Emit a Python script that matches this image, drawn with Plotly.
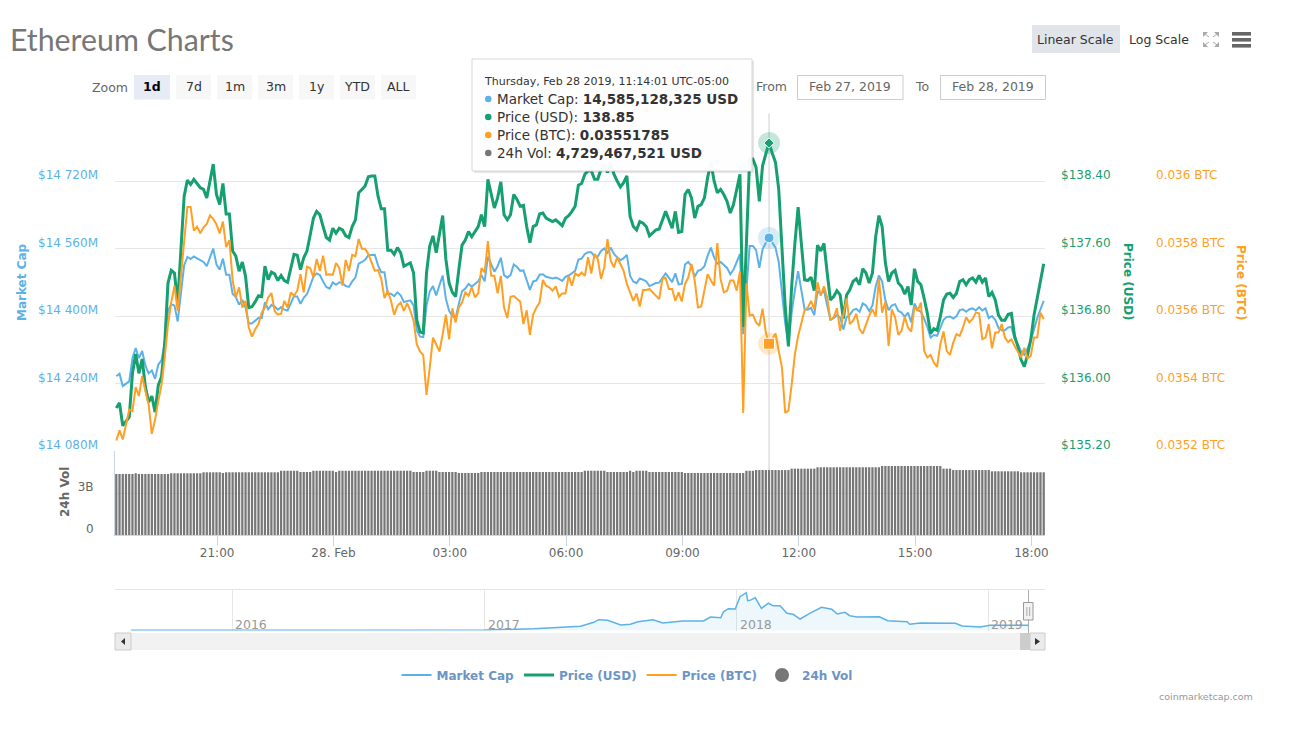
import pandas as pd
import plotly.graph_objects as go

W, H = 1296, 730
FONT = "DejaVu Sans"

# ---------- data ----------
start_time = "2019-02-27 18:24"
usd_price = [
135.71,135.77,135.50,135.55,135.60,136.12,136.35,136.12,136.29,135.96,135.78,135.85,135.66,135.98,136.08,136.48,
137.19,137.34,137.31,136.95,137.66,138.22,138.41,138.36,138.42,138.37,138.32,138.30,138.20,138.40,138.60,138.24,
138.12,138.37,138.01,138.01,137.57,137.51,137.33,137.44,137.27,136.90,136.91,136.97,137.04,137.03,137.39,137.23,
137.32,137.30,137.22,137.28,137.22,137.20,137.37,137.53,137.52,137.35,137.49,137.57,137.76,137.96,138.04,138.00,
137.86,137.73,137.70,137.84,137.78,137.84,137.82,137.75,137.73,137.86,137.94,138.26,138.30,138.34,138.45,138.46,
138.46,138.22,138.07,138.07,137.58,137.58,137.53,137.61,137.55,137.39,137.41,137.43,137.31,136.75,136.61,136.60,
137.31,137.63,137.75,137.55,137.77,137.99,137.47,137.19,137.08,137.03,137.35,137.64,137.70,137.80,137.74,137.80,
137.86,138.00,137.86,138.42,138.26,138.08,138.20,138.39,138.00,137.94,138.00,138.24,138.18,138.10,138.11,137.86,
137.67,137.86,137.88,138.01,138.02,137.96,137.94,137.92,137.94,137.91,137.87,137.96,137.99,138.04,138.10,138.35,
138.37,138.48,138.52,138.52,138.42,138.42,138.54,138.60,138.50,138.62,138.48,138.40,138.33,138.38,138.46,137.98,
137.86,137.82,137.92,137.90,137.86,137.75,137.78,137.82,137.83,137.94,138.04,137.94,137.84,138.04,137.79,137.80,
138.24,138.30,138.20,137.96,138.10,138.12,138.20,138.44,138.62,138.40,138.26,138.30,138.24,138.16,138.02,138.12,
138.30,138.48,136.67,137.66,138.66,138.66,138.56,138.16,138.58,138.72,138.85,138.73,138.62,138.30,137.66,136.91,
136.44,137.15,137.66,138.09,137.66,137.23,137.22,137.26,137.10,137.64,137.57,137.66,137.31,136.99,137.03,137.10,
137.05,136.77,137.05,137.11,137.21,137.24,137.17,137.36,137.31,137.19,137.31,137.74,137.99,137.86,137.43,137.21,
137.31,137.34,137.19,137.15,137.06,137.15,136.93,137.36,137.21,137.17,137.01,136.83,136.59,136.65,136.63,136.79,
136.99,137.06,137.07,137.02,137.07,137.21,137.23,137.17,137.23,137.25,137.20,137.28,137.20,137.25,137.03,137.08,
136.99,136.81,136.75,136.75,136.82,136.83,136.56,136.44,136.28,136.20,136.34,136.52,136.81,137.03,137.23,137.42,
]
market_cap_musd = [
14257,14263,14234,14240,14245,14300,14324,14300,14317,14283,14264,14271,14251,14285,14295,14337,
14412,14428,14425,14387,14461,14520,14540,14535,14541,14536,14531,14528,14518,14539,14560,14522,
14510,14536,14498,14498,14452,14445,14427,14438,14420,14382,14383,14389,14396,14395,14433,14416,
14426,14423,14415,14421,14415,14413,14431,14447,14446,14429,14443,14452,14472,14493,14501,14497,
14482,14469,14465,14480,14474,14480,14478,14471,14469,14482,14491,14524,14528,14533,14544,14545,
14545,14520,14504,14504,14453,14453,14447,14456,14449,14433,14435,14437,14425,14366,14351,14350,
14425,14458,14471,14449,14473,14496,14441,14412,14400,14395,14429,14459,14465,14476,14470,14476,
14482,14497,14482,14541,14524,14505,14518,14538,14497,14491,14497,14522,14516,14507,14508,14482,
14462,14482,14484,14498,14499,14493,14491,14489,14491,14488,14483,14493,14496,14501,14507,14534,
14536,14547,14551,14551,14541,14541,14554,14560,14550,14562,14547,14539,14532,14537,14545,14495,
14482,14478,14489,14486,14482,14471,14474,14478,14479,14491,14501,14491,14480,14501,14475,14476,
14522,14528,14518,14493,14507,14510,14518,14543,14562,14539,14524,14528,14522,14514,14499,14510,
14528,14547,14357,14461,14566,14566,14556,14514,14558,14573,14585,14574,14562,14528,14461,14383,
14333,14408,14461,14506,14461,14416,14415,14419,14402,14459,14452,14461,14425,14391,14395,14402,
14397,14368,14397,14403,14414,14417,14410,14430,14425,14412,14425,14470,14496,14482,14437,14414,
14425,14428,14412,14408,14398,14408,14385,14430,14414,14410,14393,14374,14349,14355,14353,14370,
14391,14398,14399,14394,14399,14414,14416,14410,14416,14418,14413,14421,14413,14418,14395,14400,
14391,14372,14366,14366,14373,14374,14346,14333,14316,14308,14323,14342,14372,14395,14416,14436,
]
btc_price = [
.035231,.035261,.035234,.035278,.035323,.035318,.035389,.035363,.035422,.035378,.035338,.035251,.035293,.035348,.035397,.035477,
.035576,.035640,.035690,.035615,.035724,.035814,.035923,.035923,.035853,.035865,.035845,.035863,.035873,.035898,.035888,.035871,
.035845,.035880,.035804,.035825,.035705,.035655,.035685,.035625,.035645,.035566,.035539,.035561,.035576,.035610,.035625,.035655,
.035668,.035615,.035604,.035607,.035645,.035625,.035670,.035660,.035675,.035724,.035670,.035746,.035742,.035714,.035769,.035734,
.035779,.035722,.035724,.035722,.035757,.035742,.035690,.035766,.035734,.035781,.035777,.035828,.035799,.035799,.035784,.035759,
.035734,.035736,.035710,.035653,.035675,.035645,.035604,.035630,.035640,.035615,.035638,.035615,.035586,.035516,.035495,.035484,
.035366,.035447,.035536,.035516,.035495,.035546,.035604,.035531,.035623,.035581,.035625,.035640,.035670,.035660,.035685,.035655,
.035667,.035742,.035729,.035822,.035719,.035719,.035667,.035719,.035625,.035594,.035657,.035659,.035650,.035643,.035576,.035617,
.035544,.035604,.035625,.035640,.035707,.035690,.035685,.035675,.035688,.035657,.035667,.035667,.035719,.035690,.035726,.035719,
.035729,.035719,.035774,.035726,.035784,.035769,.035710,.035744,.035828,.035764,.035744,.035774,.035754,.035734,.035695,.035670,
.035645,.035667,.035628,.035677,.035677,.035680,.035670,.035662,.035650,.035710,.035713,.035680,.035680,.035645,.035670,.035643,
.035695,.035714,.035754,.035705,.035625,.035628,.035675,.035724,.035705,.035690,.035816,.035710,.035670,.035675,.035705,.035705,
.035675,.035732,.035313,.035697,.035601,.035604,.035581,.035571,.035622,.035551,.035516,.035531,.035548,.035496,.035447,.035313,
.035320,.035397,.035487,.035541,.035576,.035617,.035625,.035645,.035620,.035700,.035660,.035688,.035655,.035588,.035596,.035623,
.035556,.035601,.035652,.035576,.035586,.035607,.035561,.035548,.035576,.035601,.035620,.035598,.035710,.035610,.035642,.035511,
.035620,.035596,.035544,.035556,.035598,.035566,.035554,.035627,.035615,.035640,.035496,.035477,.035485,.035462,.035449,.035516,
.035554,.035496,.035485,.035521,.035546,.035541,.035566,.035596,.035581,.035591,.035610,.035608,.035531,.035536,.035576,.035504,
.035551,.035551,.035576,.035536,.035523,.035531,.035511,.035492,.035477,.035506,.035474,.035482,.035536,.035536,.035610,.035591,
]
volume_b = [
4.36,4.36,4.36,4.36,4.36,4.36,4.41,4.36,4.36,4.36,4.36,4.36,4.36,4.36,4.36,4.36,4.36,4.41,4.41,4.41,4.41,4.41,4.41,4.41,4.41,4.41,4.41,
4.48,4.48,4.48,4.48,4.48,4.48,4.43,4.48,4.48,4.48,4.48,4.48,4.48,4.48,4.48,4.48,4.48,4.48,4.48,4.48,4.48,4.48,4.48,4.48,
4.59,4.59,4.59,4.59,4.59,4.59,4.50,4.50,4.50,4.50,4.59,4.59,4.59,4.59,4.59,4.59,4.59,4.50,
4.59,4.59,4.59,4.59,4.59,4.59,4.59,4.59,4.59,4.59,4.59,4.59,4.59,4.59,4.59,4.59,4.59,4.59,4.59,4.59,4.59,4.59,4.59,
4.50,4.50,4.50,4.50,4.59,4.59,4.59,4.59,4.50,4.50,4.50,4.50,4.50,4.50,4.43,4.43,4.43,4.43,4.43,4.43,4.43,
4.50,4.50,4.50,4.50,4.50,4.50,4.50,4.50,4.50,4.50,4.50,4.50,4.50,4.50,4.50,4.50,4.50,4.50,4.50,4.50,4.50,4.50,4.50,4.50,4.50,4.50,4.50,4.50,4.50,4.50,4.50,4.50,
4.59,4.59,4.59,4.59,4.59,4.59,4.59,4.50,4.50,4.50,4.50,4.50,4.50,4.50,4.59,4.50,4.59,4.59,4.59,4.59,
4.50,4.50,4.50,4.50,4.50,4.50,4.50,4.50,4.50,4.50,4.50,
4.43,4.43,4.43,4.43,4.43,4.43,4.43,4.43,4.43,4.43,4.43,4.43,4.43,4.43,4.43,4.43,4.43,4.43,4.43,
4.59,4.59,4.59,4.64,4.64,4.64,4.64,4.64,4.64,4.64,4.64,4.64,4.64,4.64,
4.74,4.74,4.74,4.74,4.74,4.74,4.74,4.74,
4.84,4.84,4.84,4.84,4.84,4.84,4.84,4.84,4.84,4.84,4.84,4.84,4.84,4.84,4.84,4.84,4.84,4.84,4.84,4.84,
4.93,4.93,4.93,4.93,4.93,4.93,4.93,4.93,4.93,4.93,4.93,4.93,4.93,4.93,4.93,4.93,4.93,4.93,4.93,
4.74,4.74,4.74,4.64,4.64,4.64,4.64,4.64,4.64,4.64,4.64,4.64,4.64,4.64,4.64,
4.55,4.55,4.55,4.55,4.55,4.55,4.55,4.55,4.55,4.48,4.48,4.48,4.48,4.48,4.48,4.48,4.48,
]
assert len(usd_price) == len(market_cap_musd) == len(btc_price) == len(volume_b) == 288

cap_ticks = [14080, 14240, 14400, 14560, 14720, 14880]
cap_labels = ["$14 080M", "$14 240M", "$14 400M", "$14 560M", "$14 720M", ""]
usd_ticks = [135.2, 136.0, 136.8, 137.6, 138.4]
usd_labels = ["$135.20", "$136.00", "$136.80", "$137.60", "$138.40"]
btc_ticks = [0.0352, 0.0354, 0.0356, 0.0358, 0.036]
btc_labels = ["0.0352 BTC", "0.0354 BTC", "0.0356 BTC", "0.0358 BTC", "0.036 BTC"]
vol_ticks = [0, 3, 6]
vol_labels = ["0", "3B", ""]
time_ticks = ["2019-02-27 21:00", "2019-02-28 00:00", "2019-02-28 03:00", "2019-02-28 06:00",
              "2019-02-28 09:00", "2019-02-28 12:00", "2019-02-28 15:00", "2019-02-28 18:00"]
time_labels = ["21:00", "28. Feb", "03:00", "06:00", "09:00", "12:00", "15:00", "18:00"]
x_range = ["2019-02-27 18:22", "2019-02-28 18:21"]

hover_time = "2019-02-28 11:14:01"
hover_cap, hover_usd, hover_btc = 14585.128325, 138.85, 0.03551785

nav_dates = ["2015-08-07","2016-01-01","2016-07-01","2017-01-01","2017-03-13","2017-05-01","2017-05-20","2017-06-08",
 "2017-06-15","2017-06-28","2017-07-17","2017-07-31","2017-08-11","2017-09-02","2017-09-16","2017-10-15","2017-11-14",
 "2017-11-24","2017-12-09","2017-12-13","2017-12-20","2017-12-30","2018-01-06","2018-01-15","2018-01-17","2018-01-21",
 "2018-01-28","2018-02-06","2018-02-16","2018-02-23","2018-03-05","2018-03-15","2018-03-24","2018-04-03","2018-04-17",
 "2018-05-04","2018-05-19","2018-05-27","2018-06-07","2018-06-14","2018-06-25","2018-07-27","2018-08-08","2018-09-05",
 "2018-09-09","2018-09-24","2018-11-14","2018-11-24","2018-12-20","2019-01-03","2019-02-28"]
nav_cap_b = [0.7,0.7,1.2,1.5,6.3,11.3,14.8,28.9,38,36,19.4,21.8,31,38,26.4,33.4,33.4,47.5,45,66,76.7,75.7,119,133,105,107,
 115,78,96,87,87,60.5,57,40.5,60.5,81.7,74.6,58,64,52,47.5,48.6,34.5,31,21.8,26.4,25.3,15.8,12.3,18.3,18.3]
nav_years = ["2016-01-01", "2017-01-01", "2018-01-01", "2019-01-01"]
nav_year_labels = ["2016", "2017", "2018", "2019"]
nav_range = ["2015-07-15", "2019-03-24"]

range_buttons = ["1d", "7d", "1m", "3m", "1y", "YTD", "ALL"]
tooltip_rows = [("Market Cap", "14,585,128,325 USD"), ("Price (USD)", "138.85"),
                ("Price (BTC)", "0.03551785"), ("24h Vol", "4,729,467,521 USD")]

BLUE, GREEN, ORANGE, GRAY = "#5cb2e8", "#169f6f", "#ff9f24", "#777777"

# ---------- helpers for page furniture (pixel -> paper) ----------
def px(x): return x / W
def py(y): return 1 - y / H
def dom(top, bottom): return [py(bottom), py(top)]

shapes, annos = [], []
def rect(x0, y0, x1, y1, fill="rgba(0,0,0,0)", line=None, lw=1, layer="above"):
    shapes.append(dict(type="rect", xref="paper", yref="paper", x0=px(x0), x1=px(x1), y0=py(y0), y1=py(y1),
                       fillcolor=fill, line=dict(color=line or "rgba(0,0,0,0)", width=lw if line else 0), layer=layer))
def text(x, y, s, size=12, color="#333333", anchor="left", angle=0, family=FONT):
    annos.append(dict(xref="paper", yref="paper", x=px(x), y=py(y), text=s, showarrow=False, xanchor=anchor,
                      yanchor="middle", textangle=angle, font=dict(family=family, size=size, color=color),
                      borderpad=0, borderwidth=0))
def poly(points, fill=None, line=None, lw=1, close=True):
    d = "M" + " L".join(f"{px(a):.5f},{py(b):.5f}" for a, b in points) + (" Z" if close else "")
    shapes.append(dict(type="path", xref="paper", yref="paper", path=d, fillcolor=fill or "rgba(0,0,0,0)",
                       line=dict(color=line or "rgba(0,0,0,0)", width=lw if line else 0), layer="above"))

times = pd.date_range(start_time, periods=len(usd_price), freq="5min")

fig = go.Figure()
fig.add_trace(go.Scatter(x=times, y=market_cap_musd, name="Market Cap", mode="lines", yaxis="y", xaxis="x",
                         line=dict(color=BLUE, width=2)))
fig.add_trace(go.Scatter(x=times, y=usd_price, name="Price (USD)", mode="lines", yaxis="y2", xaxis="x",
                         line=dict(color=GREEN, width=3)))
fig.add_trace(go.Scatter(x=times, y=btc_price, name="Price (BTC)", mode="lines", yaxis="y3", xaxis="x",
                         line=dict(color=ORANGE, width=2)))
fig.add_trace(go.Scatter(x=[None], y=[None], name="24h Vol", mode="markers", yaxis="y", xaxis="x",
                         marker=dict(color=GRAY, size=14)))
fig.add_trace(go.Bar(x=times, y=volume_b, name="24h Vol", xaxis="x2", yaxis="y4", showlegend=False,
                     marker=dict(color=GRAY, line=dict(width=0))))

# hovered-point markers
for val, axis, col, sym, size in [(hover_cap, "y", BLUE, "circle", 10), (hover_usd, "y2", GREEN, "diamond", 8),
                                  (hover_btc, "y3", ORANGE, "square", 11)]:
    fig.add_trace(go.Scatter(x=[hover_time], y=[val], mode="markers", yaxis=axis, xaxis="x", showlegend=False,
                             marker=dict(color=col, size=22, opacity=0.25, line=dict(width=0))))
    fig.add_trace(go.Scatter(x=[hover_time], y=[val], mode="markers", yaxis=axis, xaxis="x", showlegend=False,
                             marker=dict(color=col, size=size, symbol=sym, line=dict(color="white", width=1))))

# navigator
fig.add_trace(go.Scatter(x=nav_dates, y=nav_cap_b, mode="lines", xaxis="x3", yaxis="y5", showlegend=False,
                         fill="tozeroy", fillcolor="rgba(92,178,232,0.11)", line=dict(color=BLUE, width=1.5)))

# crosshair
shapes.append(dict(type="line", xref="x", yref="paper", x0=hover_time, x1=hover_time, y0=py(535), y1=py(113.5),
                   line=dict(color="#cccccc", width=1), layer="below"))

# title and top furniture
text(10, 38.5, "Ethereum Charts", size=30.3, color="#777777", family="Lato")
rect(1032, 25, 1120, 53, fill="#e1e5ea")
text(1075.5, 39.5, "Linear Scale", size=12.5, color="#333333", anchor="center")
text(1158.5, 39.5, "Log Scale", size=12.5, color="#333333", anchor="center")
for y0 in (32, 38, 44):
    rect(1232, y0, 1251, y0 + 3.6, fill="#666666")
for cx, cy, dx, dy in [(1203, 32, 1, 1), (1219, 32, -1, 1), (1203, 47, 1, -1), (1219, 47, -1, -1)]:
    poly([(cx, cy), (cx + 5 * dx, cy), (cx, cy + 5 * dy)], fill="#a9a9a9")
    poly([(cx + 2 * dx, cy + 2 * dy), (cx + 6 * dx, cy + 5 * dy)], line="#a9a9a9", lw=1, close=False)

text(92, 87, "Zoom", size=12.5, color="#666666")
btn_x = [134, 176, 217, 258, 299, 340, 381]
for b, x0 in zip(range_buttons, btn_x):
    active = b == "1d"
    rect(x0, 75, x0 + 36 if active else x0 + 35, 99.5, fill="#e6ebf5" if active else "#f7f7f7")
    text(x0 + (18 if active else 17.5), 86.5, f"<b>{b}</b>" if active else b, size=12.5,
         color="#000000" if active else "#333333", anchor="center")
text(756, 86.5, "From", size=12.5, color="#666666")
rect(797.5, 75.5, 903, 99.5, line="#cccccc")
text(850, 86.5, "Feb 27, 2019", size=12.5, color="#666666", anchor="center")
text(915, 86.5, "To", size=12.5, color="#666666")
rect(940.5, 75.5, 1045.5, 99.5, line="#cccccc")
text(993, 86.5, "Feb 28, 2019", size=12.5, color="#666666", anchor="center")

# axis titles
text(22, 282, "<b>Market Cap</b>", size=12, color=BLUE, anchor="center", angle=-90)
text(1128, 282, "<b>Price (USD)</b>", size=12, color=GREEN, anchor="center", angle=90)
text(1241, 282, "<b>Price (BTC)</b>", size=12, color=ORANGE, anchor="center", angle=90)
text(65, 492, "<b>24h Vol</b>", size=12, color="#666666", anchor="center", angle=-90)

# navigator chrome
rect(115, 589.5, 1045, 590, fill="#cccccc")
rect(115, 633, 1045, 650, fill="#f2f2f2")
rect(115, 633, 131, 650, fill="#ebebeb", line="#cccccc")
poly([(125, 638), (125, 645), (121, 641.5)], fill="#333333")
rect(1020, 633, 1030, 650, fill="#cccccc")
rect(1030, 633, 1045, 650, fill="#ebebeb", line="#cccccc")
poly([(1035, 638), (1035, 645), (1040, 641.5)], fill="#333333")
rect(1028, 590, 1028.8, 633, fill="#999999")
rect(1023.5, 602.5, 1033, 620, fill="#f2f2f2", line="#999999")
rect(1026.5, 607, 1027.3, 616, fill="#999999")
rect(1029.3, 607, 1030.1, 616, fill="#999999")
for d, lab in zip(nav_years, nav_year_labels):
    annos.append(dict(xref="x3", yref="paper", x=d, y=py(624), text=lab, showarrow=False, xanchor="left", yanchor="middle",
                      xshift=1, font=dict(family=FONT, size=12.5, color="#999999")))
text(1253, 696, "coinmarketcap.com", size=9.5, color="#999999", anchor="right")

# tooltip
rect(474, 61, 754, 173, fill="rgba(0,0,0,0.10)")
rect(472, 59, 752, 171, fill="rgba(255,255,255,0.96)", line="#d8d8d8")
text(484, 82, "Thursday, Feb 28 2019, 11:14:01 UTC-05:00", size=11, color="#333333")
for (name, val), col, y in zip(tooltip_rows, [BLUE, GREEN, ORANGE, GRAY], [99, 117, 135, 153]):
    shapes.append(dict(type="circle", xref="paper", yref="paper", x0=px(485), x1=px(491.5), y0=py(y + 3.2), y1=py(y - 3.2),
                       fillcolor=col, line=dict(width=0), layer="above"))
    text(497, y, f"{name}: <b>{val}</b>", size=13.5, color="#333333")

common_y = dict(ticks="", showline=False, zeroline=False, fixedrange=True, automargin=False)
tick_font = lambda c: dict(family=FONT, size=12, color=c)
fig.update_layout(
    width=W, height=H, margin=dict(l=0, r=0, t=0, b=0, autoexpand=False), autosize=False,
    paper_bgcolor="white", plot_bgcolor="rgba(0,0,0,0)", bargap=0.3,
    font=dict(family=FONT, size=12, color="#333333"),
    shapes=shapes, annotations=annos, hovermode=False,
    xaxis=dict(domain=[px(115), px(1045)], range=x_range, type="date", anchor="y", showticklabels=False,
               showgrid=False, zeroline=False, showline=False, ticks="", automargin=False),
    xaxis2=dict(domain=[px(115), px(1045)], range=x_range, type="date", anchor="y4", matches="x",
                tickmode="array", tickvals=time_ticks, ticktext=time_labels, tickfont=tick_font("#666666"),
                ticks="outside", ticklen=10, tickcolor="#ccd6eb", tickwidth=1, showline=True, linecolor="#ccd6eb",
                linewidth=1, showgrid=False, zeroline=False, automargin=False, ticklabelstandoff=-3),
    xaxis3=dict(domain=[px(115), px(1045)], range=nav_range, type="date", anchor="y5", tickmode="array",
                tickvals=nav_years, showticklabels=False, showgrid=True, gridcolor="#e6e6e6", gridwidth=1,
                zeroline=False, ticks="", automargin=False),
    yaxis=dict(domain=dom(113.5, 451), range=[cap_ticks[0], cap_ticks[-1]], tickmode="array", tickvals=cap_ticks,
               ticktext=cap_labels, tickfont=tick_font(BLUE), gridcolor="#e6e6e6", gridwidth=1, showgrid=True,
               ticklabelstandoff=16, ticklabelshift=-6, anchor="x", **common_y),
    yaxis2=dict(domain=dom(113.5, 451), range=[135.2, 139.2], overlaying="y", side="right", anchor="free",
                position=px(1060), tickmode="array", tickvals=usd_ticks, ticktext=usd_labels,
                tickfont=tick_font(GREEN), showgrid=False, ticklabelshift=-6, **common_y),
    yaxis3=dict(domain=dom(113.5, 451), range=[0.0352, 0.0362], overlaying="y", side="right", anchor="free",
                position=px(1155), tickmode="array", tickvals=btc_ticks, ticktext=btc_labels,
                tickfont=tick_font(ORANGE), showgrid=False, ticklabelshift=-6, **common_y),
    yaxis4=dict(domain=dom(451, 535), range=[0, 6], anchor="x2", tickmode="array", tickvals=vol_ticks,
                ticktext=vol_labels, tickfont=tick_font("#666666"), showgrid=True, gridcolor="#e6e6e6",
                ticklabelstandoff=18, ticklabelshift=-6, ticks="", zeroline=False, showline=True,
                linecolor="#ccd6eb", linewidth=1, fixedrange=True, automargin=False),
    yaxis5=dict(domain=dom(590, 630.5), range=[0, 142.6], anchor="x3", showticklabels=False, showgrid=False,
                zeroline=False, ticks="", automargin=False),
    legend=dict(orientation="h", x=px(627), xanchor="center", y=py(675), yanchor="middle", bgcolor="rgba(0,0,0,0)",
                itemsizing="trace", itemclick=False, itemdoubleclick=False,
                font=dict(family=FONT, size=12, color="#6c94c4", weight=700)),
)
fig.write_html("out.html", config=dict(displayModeBar=False),
               post_script="document.body.style.margin='0';document.body.style.overflow='hidden';")
